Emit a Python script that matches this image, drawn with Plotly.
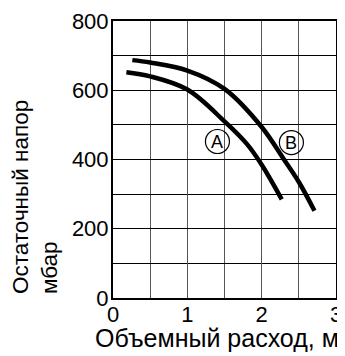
import plotly.graph_objects as go

# Data
a_x = [0.18, 0.5, 1.0, 1.5, 1.8, 2.0, 2.27]
a_y = [652, 640, 602, 510, 445, 385, 285]
b_x = [0.26, 0.5, 1.0, 1.5, 2.0, 2.3, 2.5, 2.71]
b_y = [687, 680, 657, 604, 494, 400, 335, 252]
curve_labels = ["A", "B"]
label_x = [1.405, 2.40]
label_y = [452, 449]
x_ticks = [0, 1, 2, 3]
y_ticks = [0, 200, 400, 600, 800]
y_title = "Остаточный напор<br>мбар"
x_title = "Объемный расход, м³/ч"

FONT = "Arial, Liberation Sans, sans-serif"

fig = go.Figure()
for xs, ys in [(a_x, a_y), (b_x, b_y)]:
    fig.add_trace(go.Scatter(x=xs, y=ys, mode="lines",
                             line=dict(color="black", width=4.5, shape="spline"),
                             showlegend=False, hoverinfo="skip"))

for lab, lx, ly in zip(curve_labels, label_x, label_y):
    fig.add_annotation(x=lx, y=ly, text=lab, showarrow=False,
                       font=dict(family=FONT, size=18, color="black"))
    fig.add_shape(type="circle", xref="x", yref="y",
                  x0=lx - 12 / 74.3, x1=lx + 12 / 74.3,
                  y0=ly - 12 / 0.346, y1=ly + 12 / 0.346,
                  line=dict(color="black", width=1.2))

fig.add_annotation(xref="paper", yref="paper", x=-0.35, y=0.007,
                   xanchor="center", yanchor="bottom", text=y_title,
                   textangle=-90, align="left", showarrow=False,
                   font=dict(family=FONT, size=22.5, color="black"))
fig.add_annotation(xref="paper", yref="paper", x=-0.09, y=-0.088,
                   xanchor="left", yanchor="top", text=x_title,
                   align="left", showarrow=False,
                   font=dict(family=FONT, size=25, color="black"))

fig.update_xaxes(range=[0, 3], tickvals=x_ticks, ticktext=[str(v) for v in x_ticks],
                 showgrid=True, gridcolor="#555555", gridwidth=1,
                 minor=dict(dtick=0.5, tick0=0, showgrid=True, gridcolor="#555555", gridwidth=1),
                 showline=True, linecolor="black", linewidth=2, mirror=True,
                 ticks="", zeroline=False, ticklabelstandoff=-4, automargin=False,
                 tickfont=dict(family=FONT, size=22, color="black"))
fig.update_yaxes(range=[0, 800], tickvals=y_ticks, ticktext=[str(v) for v in y_ticks],
                 showgrid=True, gridcolor="black", gridwidth=1,
                 minor=dict(dtick=100, tick0=0, showgrid=True, gridcolor="black", gridwidth=1),
                 showline=True, linecolor="black", linewidth=2, mirror=True,
                 ticks="", zeroline=False, ticklabelstandoff=-2, automargin=False,
                 tickfont=dict(family=FONT, size=22, color="black"))

fig.update_layout(width=345, height=356,
                  margin=dict(l=105, r=17, t=13, b=66),
                  plot_bgcolor="white", paper_bgcolor="white",
                  font=dict(family=FONT, color="black"))

fig.write_html("out.html")
